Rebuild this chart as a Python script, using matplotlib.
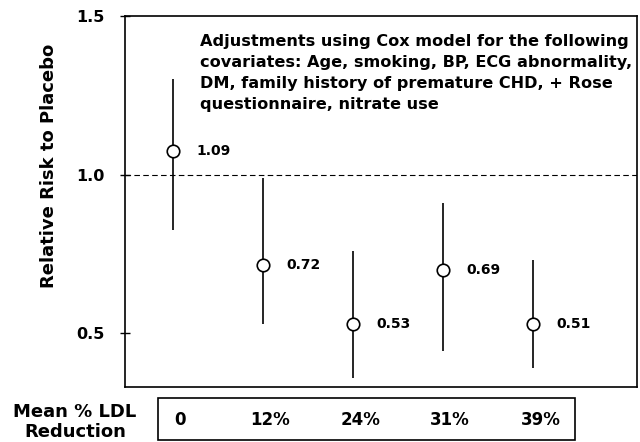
import matplotlib
matplotlib.use("Agg")
import matplotlib.pyplot as plt
from matplotlib.patches import Rectangle
import matplotlib.transforms as mtransforms

plt.rcParams['font.family'] = ['DejaVu Sans']

# Data
ldl_reduction = ["0", "12%", "24%", "31%", "39%"]
rr_labels = ["1.09", "0.72", "0.53", "0.69", "0.51"]
rr_point = [1.075, 0.715, 0.53, 0.70, 0.53]
ci_low = [0.825, 0.528, 0.36, 0.445, 0.39]
ci_high = [1.30, 0.99, 0.76, 0.91, 0.73]
yticks = [0.5, 1.0, 1.5]
note = ("Adjustments using Cox model for the following\n"
        "covariates: Age, smoking, BP, ECG abnormality,\n"
        "DM, family history of premature CHD, + Rose\n"
        "questionnaire, nitrate use")

fig = plt.figure(figsize=(6.4, 4.42), dpi=100)
ax = fig.add_axes([0.195, 0.124, 0.80, 0.84])

x = list(range(len(rr_point)))
ax.vlines(x, ci_low, ci_high, color='black', lw=1.2, zorder=2)
ax.plot(x, rr_point, 'o', ms=9, mfc='white', mec='black', mew=1.2, zorder=3)
for xi, yi, lab in zip(x, rr_point, rr_labels):
    ax.text(xi + 0.26, yi, lab, fontsize=10, fontweight='bold', va='center', ha='left')

ax.axhline(1.0, color='black', lw=0.8, ls=(0, (5, 3)), zorder=1)

ax.set_xlim(-0.53, 5.15)
ax.set_ylim(0.33, 1.5)
ax.set_xticks([])
ax.set_yticks(yticks)
ax.set_yticklabels([f"{t:.1f}" for t in yticks], fontsize=11.5, fontweight='bold')
ax.tick_params(axis='y', direction='inout', length=7, width=1, pad=11)
for s in ax.spines.values():
    s.set_linewidth(1.2)
ax.set_ylabel("Relative Risk to Placebo", fontsize=13, fontweight='bold')
ax.yaxis.set_label_coords(-0.131, 0.596)

ax.text(0.146, 0.95, note, transform=ax.transAxes, fontsize=11.6, fontweight='bold',
        va='top', ha='left', linespacing=1.48)

# Table below
fig.patches.append(Rectangle((158 / 640, 1 - 440 / 442), (575 - 158) / 640, (440 - 398) / 442,
                             transform=fig.transFigure, fill=False, ec='black', lw=1.2))
trans = mtransforms.blended_transform_factory(ax.transData, fig.transFigure)
for xi, lab in zip(x, ldl_reduction):
    ax.text(xi + 0.08, 1 - 420 / 442, lab, transform=trans, fontsize=12, fontweight='bold',
            ha='center', va='center', clip_on=False)
fig.text(75 / 640, 1 - 422 / 442, "Mean % LDL\nReduction", fontsize=13, fontweight='bold',
         ha='center', va='center', linespacing=1.2)

fig.savefig("out.png", dpi=100)
